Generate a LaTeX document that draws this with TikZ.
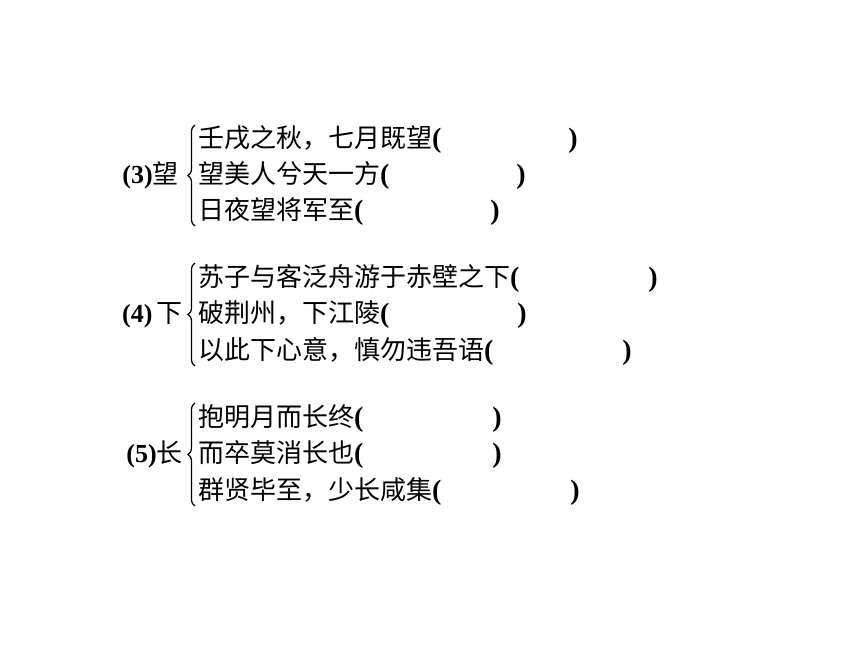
\documentclass[tikz,border=0pt]{standalone}
\usepackage{fontspec}
\setmainfont{Liberation Serif}
\newfontfamily\cjk{Noto Sans CJK SC}
\usetikzlibrary{decorations.pathreplacing}
\newcommand{\Lp}{{\fontsize{28}{30}\selectfont\bfseries(}}
\newcommand{\Lnum}[1]{{\fontsize{26}{30}\selectfont\bfseries(#1)}}
\tikzset{
  row/.style={anchor=base west, inner sep=0pt, font=\fontsize{26}{30}\selectfont},
  rp/.style={anchor=base, inner sep=0pt, font=\fontsize{28}{30}\selectfont\bfseries},
  lab/.style={anchor=base east, inner sep=0pt, font=\fontsize{26}{30}\selectfont},
  brc/.style={draw=black, line width=1.2pt, decorate, decoration={brace, amplitude=7pt}}
}
\begin{document}
\begin{tikzpicture}[x=1pt,y=-1pt]
\useasboundingbox (0,0) rectangle (860,645);
% group 3
\node[lab] (l3) at (179,183) {\Lnum{3}{\cjk 望}};
\coordinate (b3s) at (195,226);
\coordinate (b3e) at (195,125);
\draw[brc] (b3s) -- (b3e);
\node[row] (r31) at (198,147) {{\cjk 壬戌之秋，七月既望}\Lp};
\node[row] (r32) at (198,183) {{\cjk 望美人兮天一方}\Lp};
\node[row] (r33) at (198,219) {{\cjk 日夜望将军至}\Lp};
\node[rp] (p31) at (573,147) {)};
\node[rp] (p32) at (521,183) {)};
\node[rp] (p33) at (495,219) {)};
% group 4
\node[lab] (l4) at (183,322) {\Lnum{4}\,{\cjk 下}};
\coordinate (b4s) at (195,366);
\coordinate (b4e) at (195,263);
\draw[brc] (b4s) -- (b4e);
\node[row] (r41) at (198,286) {{\cjk 苏子与客泛舟游于赤壁之下}\Lp};
\node[row] (r42) at (198,322) {{\cjk 破荆州，下江陵}\Lp};
\node[row] (r43) at (198,359) {{\cjk 以此下心意，慎勿违吾语}\Lp};
\node[rp] (p41) at (653,286) {)};
\node[rp] (p42) at (522,322) {)};
\node[rp] (p43) at (627,359) {)};
% group 5
\node[lab] (l5) at (183,462) {\Lnum{5}{\cjk 长}};
\coordinate (b5s) at (195,506);
\coordinate (b5e) at (195,403);
\draw[brc] (b5s) -- (b5e);
\node[row] (r51) at (198,426) {{\cjk 抱明月而长终}\Lp};
\node[row] (r52) at (198,462) {{\cjk 而卒莫消长也}\Lp};
\node[row] (r53) at (198,499) {{\cjk 群贤毕至，少长咸集}\Lp};
\node[rp] (p51) at (497,426) {)};
\node[rp] (p52) at (497,462) {)};
\node[rp] (p53) at (575,499) {)};
\end{tikzpicture}
\end{document}
